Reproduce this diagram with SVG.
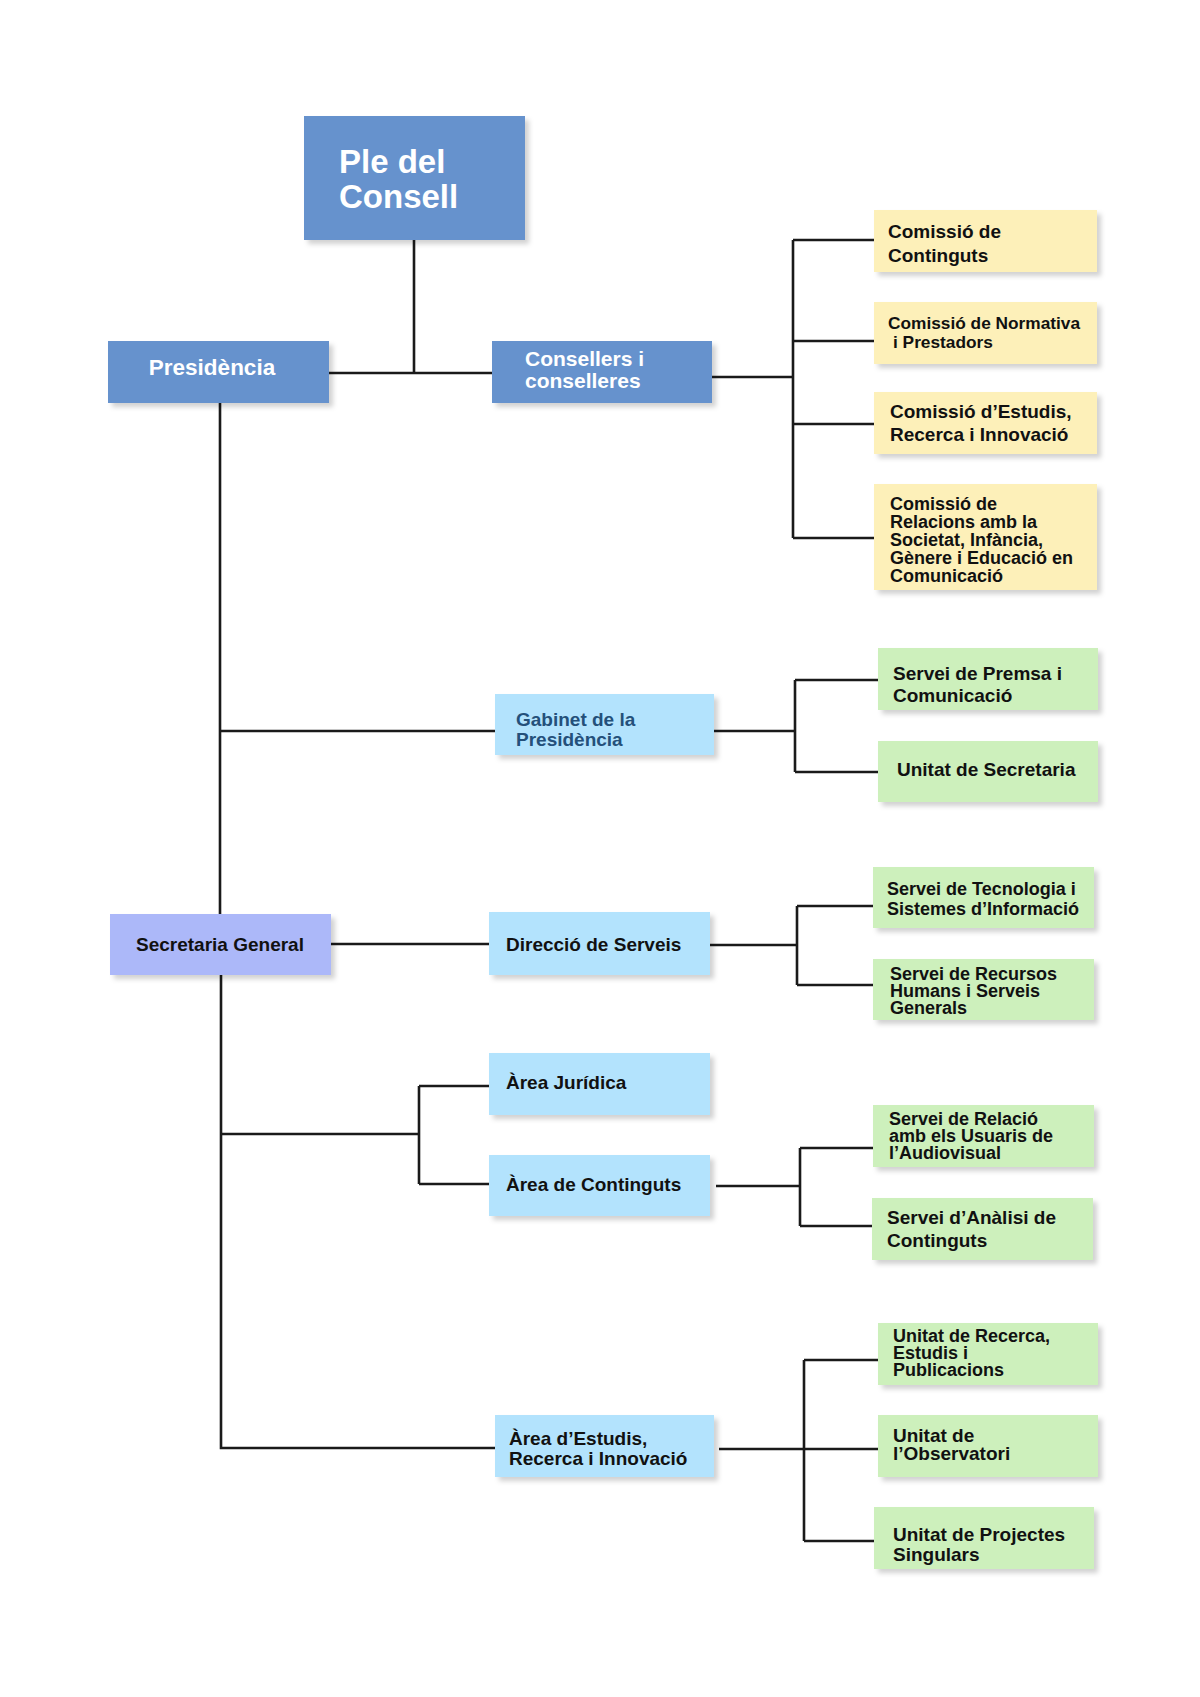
<svg xmlns="http://www.w3.org/2000/svg" width="1200" height="1697" viewBox="0 0 1200 1697">
<defs>
<filter id="sh" x="-10%" y="-10%" width="125%" height="135%">
<feDropShadow dx="4" dy="4" stdDeviation="2.5" flood-color="#000" flood-opacity="0.18"/>
</filter>
<style>
.b{font-family:"Liberation Sans",Arial,sans-serif;font-weight:bold}
.dk{fill:#6692cd}
.lb{fill:#b3e3fd}
.lv{fill:#acb8f9}
.ye{fill:#fdf0b9}
.gr{fill:#cdf0bc}
.w{fill:#ffffff}
.k{fill:#111111}
.t19{font-size:19px}
.t18{font-size:18px}
.con{fill:none;stroke:#1a1a1a;stroke-width:2.6}
</style>
</defs>
<rect width="1200" height="1697" fill="#ffffff"/>

<g id="connectors" class="con">
<path d="M414,240 V372"/>
<path d="M329,373 H492"/>
<path d="M712,377 H793"/>
<path d="M793,240 V538"/>
<path d="M793,240 H874"/>
<path d="M793,341 H874"/>
<path d="M793,424 H874"/>
<path d="M793,538 H874"/>
<path d="M220,403 V914"/>
<path d="M221,975 V1448 H495"/>
<path d="M221,731 H495"/>
<path d="M714,731 H795"/>
<path d="M795,680 V772"/>
<path d="M795,680 H878"/>
<path d="M795,772 H878"/>
<path d="M331,944 H489"/>
<path d="M710,945 H797"/>
<path d="M797,906 V985"/>
<path d="M797,906 H873"/>
<path d="M797,985 H873"/>
<path d="M221,1134 H419"/>
<path d="M419,1086 V1184"/>
<path d="M419,1086 H489"/>
<path d="M419,1184 H489"/>
<path d="M716,1186 H800"/>
<path d="M800,1148 V1226"/>
<path d="M800,1148 H873"/>
<path d="M800,1226 H872"/>
<path d="M719,1449 H878"/>
<path d="M804,1360 V1541"/>
<path d="M804,1360 H878"/>
<path d="M804,1541 H874"/>
</g>

<g id="ple-del-consell">
<rect x="304" y="116" width="221" height="124" class="dk" filter="url(#sh)"/>
<text class="b w" font-size="33" x="339" y="173">Ple del</text>
<text class="b w" font-size="33" x="339" y="208">Consell</text>
</g>

<g id="presidencia">
<rect x="108" y="341" width="221" height="62" class="dk" filter="url(#sh)"/>
<text class="b w" font-size="22.5" x="212" y="375" text-anchor="middle">Presidència</text>
</g>

<g id="consellers">
<rect x="492" y="341" width="220" height="62" class="dk" filter="url(#sh)"/>
<text class="b w" font-size="21" x="525" y="366">Consellers i</text>
<text class="b w" font-size="21" x="525" y="388">conselleres</text>
</g>

<g id="comissio-continguts">
<rect x="874" y="210" width="223" height="62" class="ye" filter="url(#sh)"/>
<text class="b k t19" x="888" y="238">Comissió de</text>
<text class="b k t19" x="888" y="262">Continguts</text>
</g>

<g id="comissio-normativa">
<rect x="874" y="302" width="223" height="62" class="ye" filter="url(#sh)"/>
<text class="b k" font-size="17.3" x="888" y="329">Comissió de Normativa</text>
<text class="b k" font-size="17.3" x="893" y="348">i Prestadors</text>
</g>

<g id="comissio-estudis">
<rect x="874" y="392" width="223" height="62" class="ye" filter="url(#sh)"/>
<text class="b k t19" x="890" y="418">Comissió d’Estudis,</text>
<text class="b k t19" x="890" y="441">Recerca i Innovació</text>
</g>

<g id="comissio-relacions">
<rect x="874" y="484" width="223" height="106" class="ye" filter="url(#sh)"/>
<text class="b k t18" x="890" y="510">Comissió de</text>
<text class="b k t18" x="890" y="528">Relacions amb la</text>
<text class="b k t18" x="890" y="546">Societat, Infància,</text>
<text class="b k t18" x="890" y="564">Gènere i Educació en</text>
<text class="b k t18" x="890" y="582">Comunicació</text>
</g>

<g id="gabinet">
<rect x="495" y="694" width="219" height="61" class="lb" filter="url(#sh)"/>
<text class="b t19" fill="#24507a" x="516" y="726">Gabinet de la</text>
<text class="b t19" fill="#24507a" x="516" y="746">Presidència</text>
</g>

<g id="servei-premsa">
<rect x="878" y="648" width="220" height="62" class="gr" filter="url(#sh)"/>
<text class="b k t19" x="893" y="680">Servei de Premsa i</text>
<text class="b k t19" x="893" y="702">Comunicació</text>
</g>

<g id="unitat-secretaria">
<rect x="878" y="741" width="220" height="61" class="gr" filter="url(#sh)"/>
<text class="b k t19" x="897" y="776">Unitat de Secretaria</text>
</g>

<g id="secretaria-general">
<rect x="110" y="914" width="221" height="61" class="lv" filter="url(#sh)"/>
<text class="b k t19" x="220" y="951" text-anchor="middle">Secretaria General</text>
</g>

<g id="direccio-serveis">
<rect x="489" y="912" width="221" height="63" class="lb" filter="url(#sh)"/>
<text class="b k t19" x="506" y="951">Direcció de Serveis</text>
</g>

<g id="servei-tecnologia">
<rect x="873" y="867" width="221" height="61" class="gr" filter="url(#sh)"/>
<text class="b k t18" x="887" y="895">Servei de Tecnologia i</text>
<text class="b k t18" x="887" y="915">Sistemes d’Informació</text>
</g>

<g id="servei-recursos">
<rect x="873" y="959" width="221" height="61" class="gr" filter="url(#sh)"/>
<text class="b k t18" x="890" y="980">Servei de Recursos</text>
<text class="b k t18" x="890" y="997">Humans i Serveis</text>
<text class="b k t18" x="890" y="1014">Generals</text>
</g>

<g id="area-juridica">
<rect x="489" y="1053" width="221" height="62" class="lb" filter="url(#sh)"/>
<text class="b k t19" x="506" y="1089">Àrea Jurídica</text>
</g>

<g id="area-continguts">
<rect x="489" y="1155" width="221" height="61" class="lb" filter="url(#sh)"/>
<text class="b k t19" x="506" y="1191">Àrea de Continguts</text>
</g>

<g id="servei-relacio">
<rect x="873" y="1105" width="221" height="62" class="gr" filter="url(#sh)"/>
<text class="b k t18" x="889" y="1125">Servei de Relació</text>
<text class="b k t18" x="889" y="1142">amb els Usuaris de</text>
<text class="b k t18" x="889" y="1159">l’Audiovisual</text>
</g>

<g id="servei-analisi">
<rect x="872" y="1198" width="221" height="62" class="gr" filter="url(#sh)"/>
<text class="b k t19" x="887" y="1224">Servei d’Anàlisi de</text>
<text class="b k t19" x="887" y="1247">Continguts</text>
</g>

<g id="area-estudis">
<rect x="495" y="1415" width="219" height="62" class="lb" filter="url(#sh)"/>
<text class="b k t19" x="509" y="1445">Àrea d’Estudis,</text>
<text class="b k t19" x="509" y="1465">Recerca i Innovació</text>
</g>

<g id="unitat-recerca">
<rect x="878" y="1323" width="220" height="62" class="gr" filter="url(#sh)"/>
<text class="b k t18" x="893" y="1342">Unitat de Recerca,</text>
<text class="b k t18" x="893" y="1359">Estudis i</text>
<text class="b k t18" x="893" y="1376">Publicacions</text>
</g>

<g id="unitat-observatori">
<rect x="878" y="1415" width="220" height="62" class="gr" filter="url(#sh)"/>
<text class="b k t19" x="893" y="1442">Unitat de</text>
<text class="b k t19" x="893" y="1460">l’Observatori</text>
</g>

<g id="unitat-projectes">
<rect x="874" y="1507" width="220" height="62" class="gr" filter="url(#sh)"/>
<text class="b k t19" x="893" y="1541">Unitat de Projectes</text>
<text class="b k t19" x="893" y="1561">Singulars</text>
</g>
</svg>
